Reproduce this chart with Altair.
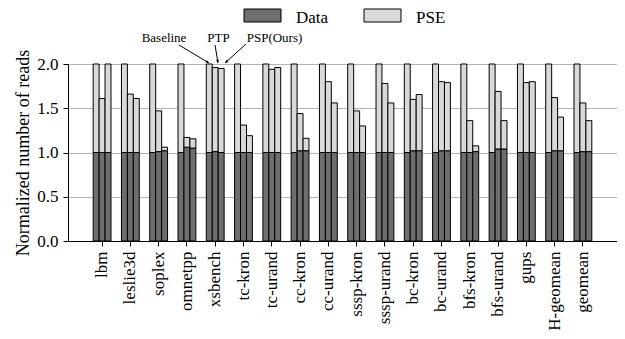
import math
import altair as alt
import pandas as pd

# ---------------- data ----------------
categories = ["lbm", "leslie3d", "soplex", "omnetpp", "xsbench", "tc-kron",
              "tc-urand", "cc-kron", "cc-urand", "sssp-kron", "sssp-urand",
              "bc-kron", "bc-urand", "bfs-kron", "bfs-urand", "gups",
              "H-geomean", "geomean"]
variants = ["Baseline", "PTP", "PSP(Ours)"]
components = ["Data", "PSE"]

baseline_data = [1.0] * 18
baseline_total = [2.0] * 18
ptp_data = [1.0, 1.0, 1.01, 1.06, 1.01, 1.0, 1.0, 1.02, 1.0, 1.0, 1.0,
            1.02, 1.02, 1.0, 1.04, 1.0, 1.02, 1.01]
ptp_total = [1.61, 1.66, 1.47, 1.17, 1.96, 1.31, 1.94, 1.44, 1.80, 1.47,
             1.78, 1.60, 1.80, 1.36, 1.69, 1.79, 1.62, 1.56]
psp_data = [1.0, 1.0, 1.02, 1.05, 1.0, 1.0, 1.0, 1.02, 1.0, 1.0, 1.0,
            1.02, 1.02, 1.01, 1.04, 1.0, 1.02, 1.01]
psp_total = [2.0, 1.61, 1.06, 1.155, 1.95, 1.19, 1.96, 1.16, 1.56, 1.30,
             1.56, 1.655, 1.79, 1.075, 1.36, 1.80, 1.40, 1.36]

y_ticks = [0.0, 0.5, 1.0, 1.5, 2.0]

series = {
    "Baseline": (baseline_data, baseline_total),
    "PTP": (ptp_data, ptp_total),
    "PSP(Ours)": (psp_data, psp_total),
}

rows = []
for v in variants:
    d, t = series[v]
    for i, c in enumerate(categories):
        rows.append({"cat": c, "variant": v, "comp": "Data", "y0": 0.0, "y1": d[i]})
        rows.append({"cat": c, "variant": v, "comp": "PSE", "y0": d[i], "y1": t[i]})
df = pd.DataFrame(rows)

FONT = "Liberation Serif, Times New Roman, Times, serif"
DARK = "#6e6e6e"
LIGHT = "#d9d9d9"
comp_colors = {"Data": DARK, "PSE": LIGHT}

bars = alt.Chart(df).mark_bar(stroke="black", strokeWidth=1).encode(
    x=alt.X("cat:N", sort=categories, title=None,
            scale=alt.Scale(paddingInner=0.37, paddingOuter=0.89),
            axis=alt.Axis(labelAngle=-90, labelFont=FONT, labelFontSize=17,
                          labelColor="black", tickColor="black", tickSize=5,
                          domainColor="black", labelPadding=5)),
    xOffset=alt.XOffset("variant:N", sort=variants,
                        scale=alt.Scale(paddingInner=0, paddingOuter=0)),
    y=alt.Y("y0:Q", title="Normalized number of reads",
            scale=alt.Scale(domain=[0, 2], nice=False),
            axis=alt.Axis(values=y_ticks, format=".1f", grid=True,
                          gridColor="#b4b4b4", gridWidth=1,
                          labelFont=FONT, labelFontSize=17, labelColor="black",
                          tickColor="black", tickSize=5, domainColor="black",
                          labelPadding=5, titleFont=FONT, titleFontSize=18,
                          titleFontWeight="normal", titleColor="black",
                          titlePadding=4)),
    y2="y1:Q",
    fill=alt.Fill("comp:N", scale=alt.Scale(domain=components, range=[DARK, LIGHT]),
                  legend=None),
)

layers = [bars]

# ---------------- legend (drawn manually, plot coordinates) ----------------
legend_pos = {"Data": (176, 228), "PSE": (296, 348)}  # swatch left x, label x
leg_df = pd.DataFrame({"comp": components})
for comp in components:
    one = leg_df[leg_df["comp"] == comp]
    sx, lx = legend_pos[comp]
    layers.append(alt.Chart(one).mark_rect(stroke="black", strokeWidth=1,
                                           fill=comp_colors[comp]).encode(
        x=alt.value(sx), x2=alt.value(sx + 37), y=alt.value(-55), y2=alt.value(-42)))
    layers.append(alt.Chart(one).mark_text(font=FONT, fontSize=17, color="black",
                                           align="left", baseline="alphabetic").encode(
        x=alt.value(lx), y=alt.value(-41), text="comp:N"))

# ---------------- annotations (pixel positions, plot coordinates) ----------------
ann_text_pos = {"Baseline": (96, -22), "PTP": (150.5, -22), "PSP(Ours)": (206.5, -22)}
ann_arrows = {  # tail (x, y) -> tip (x, y)
    "Baseline": ((111, -19), (141, -1)),
    "PTP": ((147, -19), (150, -1)),
    "PSP(Ours)": ((178, -20), (157, -1)),
}

ann_df = pd.DataFrame({"label": variants})
for v in variants:
    one = ann_df[ann_df["label"] == v]
    tx, ty = ann_text_pos[v]
    layers.append(alt.Chart(one).mark_text(font=FONT, fontSize=13, color="black",
                                           baseline="alphabetic", align="center").encode(
        x=alt.value(tx), y=alt.value(ty), text="label:N"))
    (x0, y0), (x1, y1) = ann_arrows[v]
    layers.append(alt.Chart(one).mark_rule(color="black", strokeWidth=1).encode(
        x=alt.value(x0), y=alt.value(y0), x2=alt.value(x1), y2=alt.value(y1)))
    ang = math.degrees(math.atan2(x1 - x0, -(y1 - y0))) % 360
    layers.append(alt.Chart(one).mark_point(shape="M0,0L-0.45,1L0.45,1Z", filled=True,
                                            color="black", opacity=1, size=42,
                                            angle=ang, strokeWidth=0).encode(
        x=alt.value(x1), y=alt.value(y1)))

chart = alt.layer(*layers).properties(
    width=549, height=177,
    autosize=alt.AutoSizeParams(type="none"),
    padding={"left": 60, "top": 56, "right": 0, "bottom": 90},
).configure_view(stroke="black", strokeWidth=1)

chart.save("out.html", embed_options={"renderer": "svg", "actions": False})
